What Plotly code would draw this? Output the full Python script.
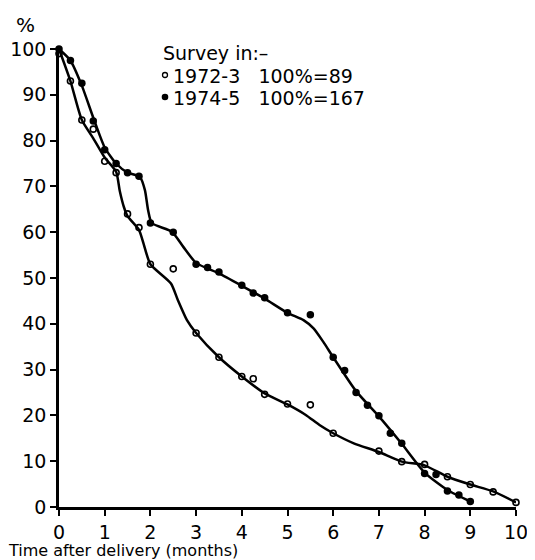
import plotly.graph_objects as go

# Observed survey points (months after delivery, % still breast feeding)
months_1972 = [0, 0.25, 0.5, 0.75, 1, 1.25, 1.5, 1.75, 2, 2.5, 3, 3.5, 4, 4.25, 4.5,
               5, 5.5, 6, 7, 7.5, 8, 8.5, 9, 9.5, 10]
pct_1972 = [99, 93, 84.5, 82.5, 75.5, 73, 64, 61, 53, 52, 38, 32.7, 28.5, 28, 24.6,
            22.5, 22.3, 16.1, 12.2, 9.9, 9.3, 6.6, 4.9, 3.3, 1.0]

months_1974 = [0, 0.25, 0.5, 0.75, 1, 1.25, 1.5, 1.75, 2, 2.5, 3, 3.25, 3.5, 4, 4.25,
               4.5, 5, 5.5, 6, 6.25, 6.5, 6.75, 7, 7.25, 7.5, 8, 8.25, 8.5, 8.75, 9]
pct_1974 = [100, 97.5, 92.5, 84.3, 78, 75, 73, 72.2, 62, 60, 53, 52.3, 51.3, 48.4, 46.7,
            45.7, 42.4, 42, 32.7, 29.8, 25, 22.2, 19.9, 16.1, 13.9, 7.3, 7.1, 3.5, 2.6, 1.2]

# Hand-drawn smoothed curves
curve_x_1972 = [0, 0.25, 0.5, 0.75, 1, 1.25, 1.33, 1.42, 1.5, 1.75, 1.85, 2, 2.45,
                2.6, 2.8, 3, 3.5, 4, 4.5, 5, 5.4, 5.7, 6, 6.45, 7, 7.5, 8, 8.5, 9, 9.5, 10]
curve_y_1972 = [100, 93, 84.5, 80.5, 76.3, 73.2, 69, 65.5, 63.5, 60.5, 57.5, 53, 48.8,
                45.2, 40.8, 38, 32.7, 28.5, 24.8, 22.4, 20.1, 17.9, 16.1, 13.9, 12.0, 9.9,
                9.1, 6.6, 4.9, 3.4, 1.0]

curve_x_1974 = [0, 0.25, 0.5, 0.75, 1, 1.25, 1.5, 1.77, 1.88, 1.95, 2.03, 2.47, 2.72, 3,
                3.5, 4, 4.5, 5, 5.35, 5.57, 5.78, 6, 6.5, 7, 7.5, 8, 8.5, 9]
curve_y_1974 = [100, 97.5, 92, 85, 78.5, 75, 73, 72.1, 69.2, 64.8, 62, 60.1, 56.8, 53.3,
                51, 48.3, 45.5, 42.4, 40.8, 39, 36.1, 32.7, 25.3, 19.8, 13.8, 7.5, 3.7, 1.2]

x_ticks = [0, 1, 2, 3, 4, 5, 6, 7, 8, 9, 10]
x_tick_text = ["0", "1", "2", "3", "4", "5", "6", "7", "8", "9", "10"]
y_ticks = [0, 10, 20, 30, 40, 50, 60, 70, 80, 90, 100]
y_tick_text = ["0", "10", "20", "30", "40", "50", "60", "70", "80", "90", "100"]

legend_title = "Survey in:–"
legend_1972 = "1972-3\u00a0\u00a0 100%=89"
legend_1974 = "1974-5\u00a0\u00a0 100%=167"

BLACK = "#000000"
FONT = "DejaVu Sans"

fig = go.Figure()

for cx, cy in ((curve_x_1972, curve_y_1972), (curve_x_1974, curve_y_1974)):
    fig.add_trace(go.Scatter(x=cx, y=cy, mode="lines",
                             line=dict(color=BLACK, width=2.5, shape="spline", smoothing=0.6),
                             hoverinfo="skip", showlegend=False, cliponaxis=False))
fig.add_trace(go.Scatter(x=months_1972, y=pct_1972, mode="markers", name="1972-3",
                         marker=dict(symbol="circle-open", size=6, color=BLACK,
                                     line=dict(width=1.6, color=BLACK)),
                         showlegend=False, cliponaxis=False))
fig.add_trace(go.Scatter(x=months_1974, y=pct_1974, mode="markers", name="1974-5",
                         marker=dict(symbol="circle", size=7.5, color=BLACK),
                         showlegend=False, cliponaxis=False))

axis_common = dict(showline=True, linecolor=BLACK, linewidth=2.5, showgrid=False,
                   zeroline=False, ticks="outside", tickcolor=BLACK, tickwidth=2,
                   ticklen=6, tickfont=dict(family=FONT, size=19, color=BLACK))

fig.update_xaxes(range=[0, 10], tickvals=x_ticks, ticktext=x_tick_text, **axis_common)
fig.update_yaxes(range=[0, 100], tickvals=y_ticks, ticktext=y_tick_text, **axis_common)

# page body has an 8px margin; size and positions compensate for it
OFF = 8
W, H = 535 - OFF, 560 - OFF
L, R, T, B = 59 - OFF, 19, 49 - OFF, 53
pw, ph = W - L - R, H - T - B

def px(xp):
    return (xp - OFF - L) / pw

def py(yp):
    return (H - B - (yp - OFF)) / ph

annotations = [
    dict(text="%", x=px(25), y=py(25), xref="paper", yref="paper", showarrow=False,
         xanchor="center", yanchor="middle", font=dict(family=FONT, size=20, color=BLACK)),
    dict(text="Time after delivery (months)", x=px(6), y=py(550), xref="paper", yref="paper",
         showarrow=False, xanchor="left", yanchor="middle",
         font=dict(family=FONT, size=16, color=BLACK)),
    dict(text=legend_title, x=px(161), y=py(53), xref="paper", yref="paper", showarrow=False,
         xanchor="left", yanchor="middle", font=dict(family=FONT, size=19, color=BLACK)),
    dict(text=legend_1972, x=px(171), y=py(76), xref="paper", yref="paper", showarrow=False,
         xanchor="left", yanchor="middle", font=dict(family=FONT, size=19, color=BLACK)),
    dict(text=legend_1974, x=px(171), y=py(98), xref="paper", yref="paper", showarrow=False,
         xanchor="left", yanchor="middle", font=dict(family=FONT, size=19, color=BLACK)),
]

shapes = [
    dict(type="circle", xref="paper", yref="paper", xsizemode="pixel", ysizemode="pixel",
         xanchor=px(165), yanchor=py(75), x0=-2.5, x1=2.5, y0=-2.5, y1=2.5,
         line=dict(color=BLACK, width=1.3), fillcolor="white"),
    dict(type="circle", xref="paper", yref="paper", xsizemode="pixel", ysizemode="pixel",
         xanchor=px(165), yanchor=py(97), x0=-3.3, x1=3.3, y0=-3.3, y1=3.3,
         line=dict(color=BLACK, width=0), fillcolor=BLACK),
]

fig.update_layout(width=W, height=H, margin=dict(l=L, r=R, t=T, b=B, autoexpand=False),
                  paper_bgcolor="white", plot_bgcolor="white",
                  annotations=annotations, shapes=shapes, showlegend=False)

fig.write_html("out.html")
